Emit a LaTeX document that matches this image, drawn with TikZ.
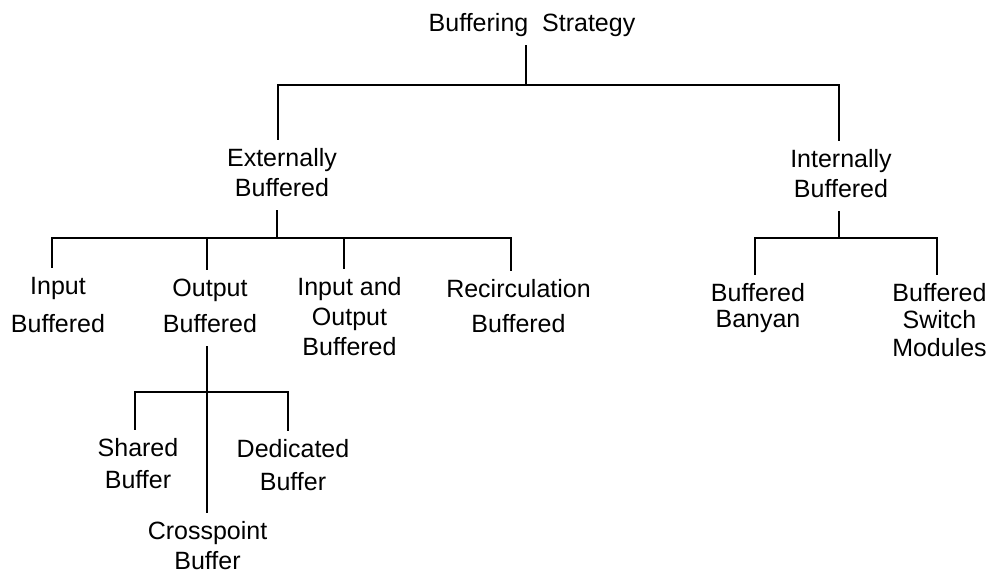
\documentclass[tikz,border=0pt]{standalone}
\usepackage{fontspec}
\setmainfont{Liberation Sans}
\begin{document}
\begin{tikzpicture}[x=1pt,y=-1pt,
  lbl/.style={font=\fontsize{25}{30}\selectfont, align=center, inner xsep=0pt, inner ysep=5pt},
  conn/.style={line width=1.2pt}]
\useasboundingbox (0,0) rectangle (990,573);
% nodes
\node[lbl] (root) at (532,25) {\strut Buffering\ \ Strategy};
\node[lbl] (ext) at (282,175) {\strut Externally\\\strut Buffered};
\node[lbl] (int) at (841,176) {\strut Internally\\\strut Buffered};
\node[lbl] (inb) at (58,307) {\strut Input\\[8pt]\strut Buffered};
\node[lbl] (outb) at (210,308) {\strut Output\\[6pt]\strut Buffered};
\node[lbl] (iob) at (349.5,319) {\strut Input and\\\strut Output\\\strut Buffered};
\node[lbl] (recb) at (518.5,308.5) {\strut Recirculation\\[5pt]\strut Buffered};
\node[lbl] (bb) at (758,308) {\strut Buffered\\[-4pt]\strut Banyan};
\node[lbl] (bsm) at (939.5,322.5) {\strut Buffered\\[-2.5pt]\strut Switch\\[-2.5pt]\strut Modules};
\node[lbl] (shb) at (138,466) {\strut Shared\\[2pt]\strut Buffer};
\node[lbl] (dedb) at (293,467.5) {\strut Dedicated\\[3pt]\strut Buffer};
\node[lbl] (crb) at (207.5,548) {\strut Crosspoint\\[0pt]\strut Buffer};
% junction coordinates
\coordinate (j0) at (526,85);
\coordinate (e0) at (278,85);
\coordinate (i0) at (839,85);
\coordinate (j1) at (277,238);
\coordinate (d1) at (52,238);
\coordinate (d2) at (207,238);
\coordinate (d3) at (344,238);
\coordinate (d4) at (511,238);
\coordinate (j2) at (839,238);
\coordinate (d5) at (755,238);
\coordinate (d6) at (937,238);
\coordinate (j3) at (207,392);
\coordinate (d7) at (135,392);
\coordinate (d8) at (288,392);
% connectors
\draw[conn] (root.south -| j0) -- (j0);
\draw[conn] (e0 |- ext.north) -- (e0) -- (i0) -- (i0 |- int.north);
\draw[conn] (j1 |- ext.south) -- (j1);
\draw[conn] (d1 |- inb.north) -- (d1) -- (d4) -- (d4 |- recb.north);
\draw[conn] (d2) -- (d2 |- outb.north);
\draw[conn] (d3) -- (d3 |- iob.north);
\draw[conn] (j2 |- int.south) -- (j2);
\draw[conn] (d5 |- bb.north) -- (d5) -- (d6) -- (d6 |- bsm.north);
\draw[conn] (j3 |- outb.south) -- (j3) -- (j3 |- crb.north);
\draw[conn] (d7 |- shb.north) -- (d7) -- (d8) -- (d8 |- dedb.north);
\end{tikzpicture}
\end{document}
